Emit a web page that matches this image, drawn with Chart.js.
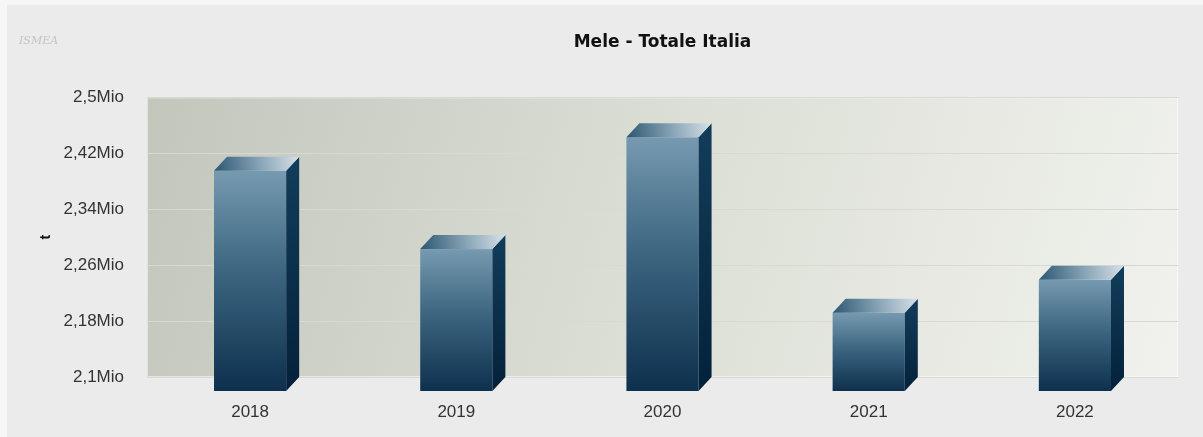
<!DOCTYPE html>
<html>
<head>
<meta charset="utf-8">
<title>Mele - Totale Italia</title>
<script src="https://cdn.jsdelivr.net/npm/chart.js@4.4.1/dist/chart.umd.min.js"></script>
<style>
    html, body { margin: 0; padding: 0; background: #f6f6f6; }
    #wrap { position: absolute; left: 7px; top: 5px; width: 1196px; height: 432px; background: #ebebeb; }
</style>
</head>
<body>
<div id="wrap"><canvas id="prodChart" width="1196" height="432"></canvas></div>
<script>
const years = ['2018', '2019', '2020', '2021', '2022'];
const tonnes = [2415000, 2303000, 2463000, 2212000, 2259000];
const yTickLabels = ['2,1Mio', '2,18Mio', '2,26Mio', '2,34Mio', '2,42Mio', '2,5Mio'];

// depth of the fake 3d boxes
const DX = 13, DY = 14;

const boxPlugin = {
    id: 'box3d',
    beforeDraw(chart) {
        const { ctx, chartArea: a } = chart;
        ctx.save();
        const g = ctx.createLinearGradient(a.left, a.top, a.right, a.bottom);
        g.addColorStop(0, '#c2c6bb');
        g.addColorStop(0.5, '#dcdfd6');
        g.addColorStop(1, '#f1f2ed');
        ctx.fillStyle = g;
        ctx.fillRect(a.left, a.top, a.right - a.left, a.bottom - a.top);
        ctx.strokeStyle = 'rgba(255,255,255,0.5)';
        ctx.lineWidth = 1;
        ctx.strokeRect(a.left + 0.5, a.top + 0.5, a.right - a.left - 1, a.bottom - a.top - 1);
        // logo
        ctx.fillStyle = '#c4c4c4';
        ctx.font = 'italic 11px "DejaVu Serif"';
        ctx.fillText('ISMEA', 12, 39);
        ctx.restore();
    },
    afterDatasetsDraw(chart) {
        const { ctx, chartArea } = chart;
        chart.getDatasetMeta(0).data.forEach(bar => {
            const w = bar.width, l = bar.x - w / 2, r = bar.x + w / 2;
            const top = bar.y, base = Math.min(bar.base, chartArea.bottom);
            ctx.save();
            // front face
            let g = ctx.createLinearGradient(0, top + DY, 0, base + DY);
            g.addColorStop(0, '#769ab0');
            g.addColorStop(0.45, '#3d6681');
            g.addColorStop(1, '#0d304d');
            ctx.fillStyle = g;
            ctx.fillRect(l, top + DY, w, base - top);
            // side face
            g = ctx.createLinearGradient(0, top, 0, base + DY);
            g.addColorStop(0, '#123d5a');
            g.addColorStop(1, '#04213a');
            ctx.fillStyle = g;
            ctx.beginPath();
            ctx.moveTo(r, top + DY);
            ctx.lineTo(r + DX, top);
            ctx.lineTo(r + DX, base);
            ctx.lineTo(r, base + DY);
            ctx.closePath();
            ctx.fill();
            // top face
            g = ctx.createLinearGradient(l, top + DY, r + DX, top);
            g.addColorStop(0, '#2c5672');
            g.addColorStop(0.55, '#8aa6b8');
            g.addColorStop(1, '#d7e1e7');
            ctx.fillStyle = g;
            ctx.beginPath();
            ctx.moveTo(l, top + DY);
            ctx.lineTo(l + DX, top);
            ctx.lineTo(r + DX, top);
            ctx.lineTo(r, top + DY);
            ctx.closePath();
            ctx.fill();
            ctx.restore();
        });
    }
};

const ctx = document.getElementById('prodChart').getContext('2d');
new Chart(ctx, {
    type: 'bar',
    data: {
        labels: years,
        datasets: [{
            label: 'Mele',
            data: tonnes,
            backgroundColor: 'rgba(0,0,0,0)',
            borderWidth: 0,
            categoryPercentage: 1,
            barPercentage: 0.35
        }]
    },
    options: {
        responsive: false,
        animation: false,
        layout: { padding: { left: 0, right: 25, top: 0, bottom: 0 } },
        plugins: {
            legend: { display: false },
            tooltip: { enabled: false },
            title: {
                display: true,
                fullSize: false,
                text: 'Mele - Totale Italia',
                color: '#111',
                font: { family: 'DejaVu Sans', size: 17, weight: 'bold' },
                padding: { top: 27, bottom: 45 }
            }
        },
        scales: {
            y: {
                min: 2100000,
                max: 2500000,
                afterFit(scale) { scale.width = 140; },
                ticks: {
                    stepSize: 80000,
                    padding: 23,
                    color: '#333',
                    font: { family: 'Liberation Sans', size: 17 },
                    callback: (v, i) => yTickLabels[i]
                },
                grid: { color: '#d8dad2', drawTicks: false },
                border: { display: false },
                title: {
                    display: true,
                    text: 't',
                    color: '#111',
                    font: { family: 'Liberation Sans', size: 14, weight: 'bold' },
                    padding: { top: 31, bottom: 0 }
                }
            },
            x: {
                afterFit(scale) { scale.height = 60; },
                ticks: {
                    padding: 25,
                    color: '#333',
                    font: { family: 'Liberation Sans', size: 17 }
                },
                grid: { display: false, drawTicks: false },
                border: { display: false }
            }
        }
    },
    plugins: [boxPlugin]
});
</script>
</body>
</html>
